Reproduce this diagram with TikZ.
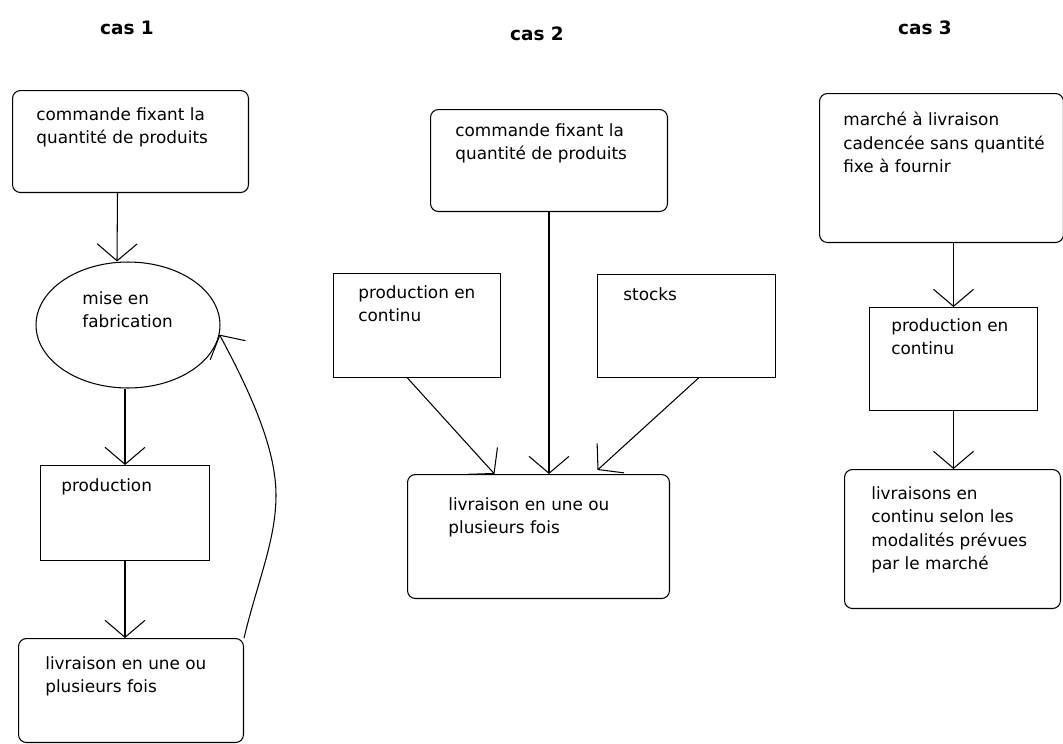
\documentclass[tikz,border=0pt]{standalone}
\usepackage{fontspec}
\setmainfont{DejaVu Sans}
\usepackage{tikz}
\usetikzlibrary{arrows.meta,shapes.geometric}
\tikzset{
  bx/.style={draw, line width=0.6pt, inner sep=0pt, anchor=north west},
  rbx/.style={bx, rounded corners=4.5pt},
  tx/.style={inner sep=0pt, anchor=north west, align=left, font=\fontsize{9.6pt}{13.4pt}\selectfont},
  ttl/.style={inner sep=0pt, font=\fontsize{10.5pt}{12pt}\selectfont\bfseries},
  arr/.style={-{Straight Barb[length=0.34cm,width=0.8cm]}, line width=0.6pt},
}

\begin{document}
\begin{tikzpicture}[x=0.02cm,y=-0.02cm]
  \useasboundingbox (0,0) rectangle (1063,744);

  % cas 1
  \node[ttl] (t1) at (127,28) {cas 1};
  \node[rbx, minimum width=4.72cm, minimum height=2.04cm] (b1cmd) at (12,90) {};
  \node[tx] (x1cmd) at ([shift={(24,17)}]b1cmd.north west) {commande fixant la\\quantité de produits};
  \node[draw, ellipse, line width=0.6pt, inner sep=0pt, minimum width=3.68cm, minimum height=2.52cm] (e1fab) at (128,325) {};
  \node[tx] (x1fab) at ([shift={(-46,-34)}]e1fab.center) {mise en\\fabrication};
  \node[bx, minimum width=3.38cm, minimum height=1.9cm] (b1prod) at (40,465) {};
  \node[tx] (x1prod) at ([shift={(21,13)}]b1prod.north west) {production};
  \node[rbx, minimum width=4.5cm, minimum height=2.08cm] (b1liv) at (18,638) {};
  \node[tx] (x1liv) at ([shift={(27,18)}]b1liv.north west) {livraison en une ou\\plusieurs fois};
  \draw[arr] ([xshift=-0.26cm]b1cmd.south) -- ([xshift=-0.22cm]e1fab.north);
  \draw[arr] (e1fab.south -| b1prod.north) -- (b1prod.north);
  \draw[arr] (b1prod.south) -- (b1prod.south |- b1liv.north);
  \draw[arr] (b1liv.north east) .. controls (258,580) and (276,540) .. (276,495)
    .. controls (276,450) and (252,395) .. (e1fab.-6);

  % cas 2
  \node[ttl] (t2) at (537,34) {cas 2};
  \node[rbx, minimum width=4.74cm, minimum height=2.04cm] (b2cmd) at (430,109) {};
  \node[tx] (x2cmd) at ([shift={(25,14)}]b2cmd.north west) {commande fixant la\\quantité de produits};
  \node[bx, minimum width=3.34cm, minimum height=2.08cm] (b2prod) at (333,273) {};
  \node[tx] (x2prod) at ([shift={(25,12)}]b2prod.north west) {production en\\continu};
  \node[bx, minimum width=3.56cm, minimum height=2.06cm] (b2stk) at (597,274) {};
  \node[tx] (x2stk) at ([shift={(26,13)}]b2stk.north west) {stocks};
  \node[rbx, minimum width=5.24cm, minimum height=2.48cm] (b2liv) at (407,474) {};
  \node[tx] (x2liv) at ([shift={(41,23)}]b2liv.north west) {livraison en une ou\\plusieurs fois};
  \draw[arr] (b2cmd.south) -- (b2cmd.south |- b2liv.north);
  \draw[arr] ([xshift=-0.19cm]b2prod.south) -- ([xshift=-0.88cm]b2liv.north);
  \draw[arr] ([xshift=0.24cm]b2stk.south) -- ([shift={(59,-4)}]b2liv.north);

  % cas 3
  \node[ttl] (t3) at (925,28) {cas 3};
  \node[rbx, minimum width=4.88cm, minimum height=2.98cm] (b3mkt) at (819,93) {};
  \node[tx] (x3mkt) at ([shift={(24,19)}]b3mkt.north west) {marché à livraison\\cadencée sans quantité\\fixe à fournir};
  \node[bx, minimum width=3.36cm, minimum height=2.06cm] (b3prod) at (869,307) {};
  \node[tx] (x3prod) at ([shift={(22,11)}]b3prod.north west) {production en\\continu};
  \node[rbx, minimum width=4.32cm, minimum height=2.78cm] (b3liv) at (844,469) {};
  \node[tx] (x3liv) at ([shift={(27,17)}]b3liv.north west) {livraisons en\\continu selon les\\modalités prévues\\par le marché};
  \draw[arr] (b3prod.north |- b3mkt.south) -- (b3prod.north);
  \draw[arr] (b3prod.south) -- (b3prod.south |- b3liv.north);
\end{tikzpicture}
\end{document}
